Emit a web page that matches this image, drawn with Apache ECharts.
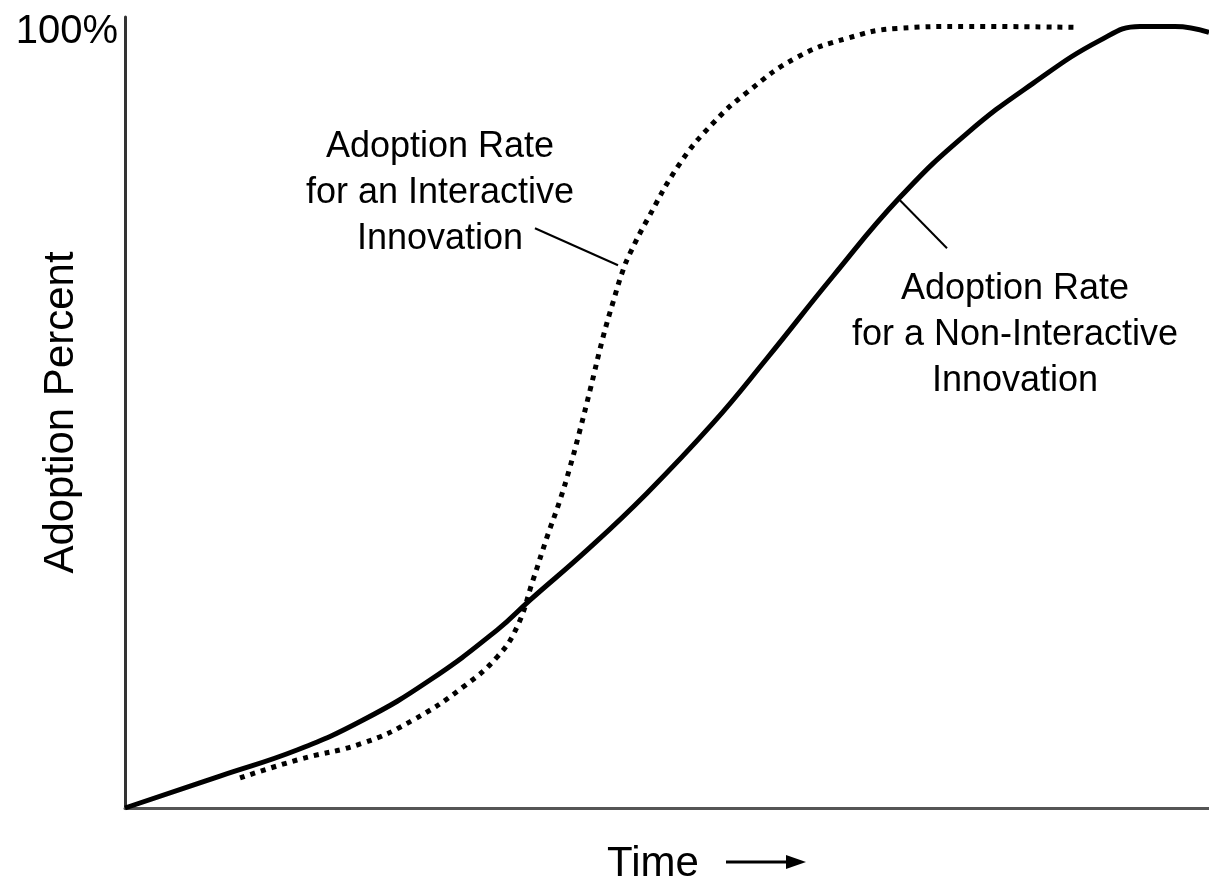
<!DOCTYPE html>
<html>
<head>
<meta charset="utf-8">
<script src="https://cdn.jsdelivr.net/npm/echarts@6/dist/echarts.min.js"></script>
<style>
  html, body { margin: 0; padding: 0; background: #fff; }
  #chart { width: 1209px; height: 885px; }
</style>
</head>
<body>
<div id="chart"></div>
<script>
// time (0-100) / adoption percent
const nonInteractiveX = [0, 8.76, 15.87, 21.96, 28.14, 34.32, 37.36, 42.62, 48.15, 54.24, 59.23, 65.31, 71.49, 77.68, 83.76, 89.94, 93.63, 96.86, 100];
const nonInteractiveY = [0, 4.09, 7.42, 11.25, 16.37, 22.76, 26.6, 32.99, 40.28, 49.23, 57.54, 68.03, 78.13, 86.32, 92.71, 98.21, 100, 100, 99.23];

const interactiveX = [10.61, 15.87, 21.96, 26.57, 31.18, 34.32, 36.16, 37.64, 38.93, 40.13, 41.05, 41.97, 42.9, 44.1, 45.02, 45.94, 46.59, 48.15, 51.2, 54.24, 57.38, 61.99, 66.61, 71.22, 77.68, 87.82];
const interactiveY = [3.84, 6.14, 8.31, 11.25, 15.47, 19.31, 23.15, 29.16, 34.65, 39.39, 43.61, 48.34, 53.45, 60.23, 64.71, 68.8, 70.97, 75.19, 82.48, 87.6, 91.56, 96.04, 98.47, 99.74, 100, 99.87];

const interactiveLabel = 'Adoption Rate\nfor an Interactive\nInnovation';
const nonInteractiveLabel = 'Adoption Rate\nfor a Non-Interactive\nInnovation';

const font = 'Liberation Sans, Arial, sans-serif';

function pairs(xs, ys) {
    return xs.map((x, i) => [x, ys[i]]);
}

const chart = echarts.init(document.getElementById('chart'));
chart.setOption({
    animation: false,
    backgroundColor: '#fff',
    grid: { left: 125, right: 0, top: 17, bottom: 77, containLabel: false, outerBoundsMode: 'none' },
    xAxis: {
        type: 'value',
        min: 0,
        max: 100,
        name: 'Time',
        nameLocation: 'middle',
        nameGap: 35,
        nameMoveOverlap: false,
        nameTextStyle: { fontFamily: font, fontSize: 42, color: '#000', padding: [0, 28, 0, 0] },
        axisLine: { lineStyle: { color: '#555', width: 3 } },
        axisTick: { show: false },
        axisLabel: { show: false },
        splitLine: { show: false }
    },
    yAxis: {
        type: 'value',
        min: 0,
        max: 101.2,
        interval: 100,
        name: 'Adoption Percent',
        nameLocation: 'middle',
        nameGap: 43,
        nameMoveOverlap: false,
        nameTextStyle: { fontFamily: font, fontSize: 42, color: '#000' },
        axisLine: { show: true, lineStyle: { color: '#333', width: 3 } },
        axisTick: { show: false },
        axisLabel: {
            showMaxLabel: false,
            margin: 7,
            formatter: v => (v === 100 ? '{p|100%}' : ''),
            rich: {
                p: { fontFamily: font, fontSize: 40, color: '#000', padding: [12, 0, 0, 0] }
            }
        },
        splitLine: { show: false }
    },
    series: [
        {
            name: 'Non-Interactive',
            type: 'line',
            data: pairs(nonInteractiveX, nonInteractiveY),
            smooth: 0.45,
            showSymbol: false,
            lineStyle: { color: '#000', width: 5 },
            markLine: {
                silent: true,
                symbol: 'none',
                label: { show: false },
                lineStyle: { color: '#000', width: 2, type: 'solid' },
                data: [[{ coord: [71.49, 77.75] }, { coord: [75.83, 71.61] }]]
            }
        },
        {
            name: 'Interactive',
            type: 'line',
            data: pairs(interactiveX, interactiveY),
            smooth: 0.45,
            showSymbol: false,
            lineStyle: { color: '#000', width: 5, type: [5, 6], cap: 'butt' },
            markLine: {
                silent: true,
                symbol: 'none',
                label: { show: false },
                lineStyle: { color: '#000', width: 2, type: 'solid' },
                data: [[{ coord: [37.82, 74.17] }, { coord: [45.48, 69.44] }]]
            }
        }
    ],
    graphic: [
        {
            type: 'text',
            x: 440,
            y: 193,
            style: {
                text: interactiveLabel,
                align: 'center',
                verticalAlign: 'middle',
                font: '36px ' + font,
                lineHeight: 46,
                fill: '#000'
            }
        },
        {
            type: 'text',
            x: 1015,
            y: 335,
            style: {
                text: nonInteractiveLabel,
                align: 'center',
                verticalAlign: 'middle',
                font: '36px ' + font,
                lineHeight: 46,
                fill: '#000'
            }
        },
        {
            type: 'line',
            shape: { x1: 726, y1: 862, x2: 790, y2: 862 },
            style: { stroke: '#000', lineWidth: 3 }
        },
        {
            type: 'polygon',
            shape: { points: [[806, 862], [786, 855], [786, 869]] },
            style: { fill: '#000' }
        }
    ]
});
</script>
</body>
</html>
